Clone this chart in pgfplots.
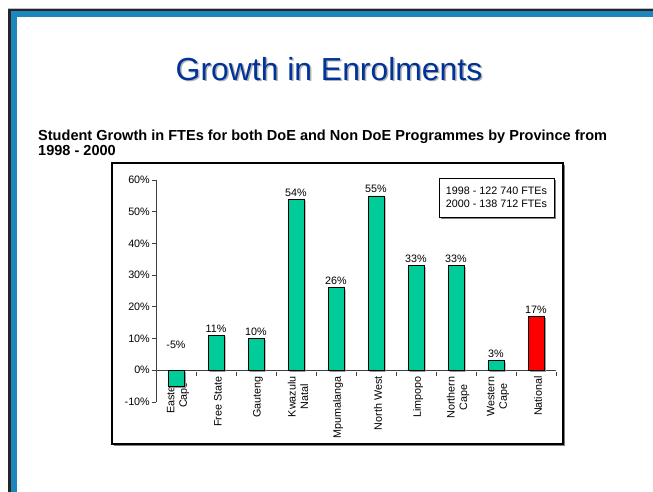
\documentclass[border=0pt]{standalone}
\usepackage{fontspec}
\setmainfont{Liberation Sans}
\usepackage{pgfplots}
\pgfplotsset{compat=1.18}
\definecolor{barteal}{RGB}{0,204,153}
\definecolor{barred}{RGB}{255,0,0}
\definecolor{frameblue}{RGB}{27,135,190}
\definecolor{titleblue}{RGB}{0,51,153}
\newcommand{\lbl}{\fontsize{10.8}{12.5}\selectfont}
\begin{document}
\begin{tikzpicture}
\path[use as bounding box] (0,0) rectangle (653bp,-492bp);
\fill[white] (0,0) rectangle (653bp,-492bp);
% slide border
\fill[black!25] (8bp,-8bp) rectangle (653bp,-9bp);
\fill[black!85] (8bp,-9bp) rectangle (653bp,-11bp);
\fill[black!85] (8bp,-9bp) rectangle (10.5bp,-492bp);
\fill[frameblue] (10.5bp,-11bp) rectangle (653bp,-17bp);
\fill[frameblue] (10.5bp,-11bp) rectangle (17bp,-492bp);
% title
\node[anchor=base, text=black!30, font=\fontsize{32}{36}\selectfont, inner sep=0pt] at (330.5bp,-81.5bp) {Growth in Enrolments};
\node[anchor=base, text=titleblue, font=\fontsize{32}{36}\selectfont, inner sep=0pt] at (329bp,-80bp) {Growth in Enrolments};
% subtitle
\node[anchor=base west, inner sep=0pt, font=\bfseries\fontsize{14.6}{16}\selectfont] at (38bp,-140bp) {Student Growth in FTEs for both DoE and Non DoE Programmes by Province from};
\node[anchor=base west, inner sep=0pt, font=\bfseries\fontsize{14.6}{16}\selectfont] at (38bp,-155bp) {1998 - 2000};
% chart frame
\fill[black!50] (113.5bp,-164.5bp) rectangle (564.5bp,-445.5bp);
\draw[line width=1.2bp, fill=white] (112bp,-163bp) rectangle (563bp,-444bp);
% legend box
\fill[black!50] (440.5bp,-179.5bp) rectangle (555.5bp,-218.5bp);
\draw[line width=0.8bp, fill=white] (439bp,-178bp) rectangle (554bp,-217bp);
\node[align=center, font=\lbl, inner sep=0pt] at (496.5bp,-197.5bp) {1998 - 122 740 FTEs\\2000 - 138 712 FTEs};
\begin{axis}[
  at={(156bp,-402bp)}, anchor=south west,
  scale only axis, width=400bp, height=222bp,
  xmin=-0.5, xmax=9.5, ymin=-10, ymax=60,
  axis x line*=middle, axis y line*=left,
  axis line style={line width=0.8bp, black!75},
  tick align=center,
  ybar, bar width=16bp,
  clip=false,
  ytick={-10,0,10,20,30,40,50,60},
  yticklabels={-10\%,0\%,10\%,20\%,30\%,40\%,50\%,60\%},
  xtick={0,1,2,3,4,5,6,7,8,9},
  xticklabels={{Eastern\\Cape},{Free State},Gauteng,{Kwazulu\\Natal},Mpumalanga,{North West},Limpopo,{Northern\\Cape},{Western\\Cape},National},
  minor xtick={-0.5,0.5,...,9.5},
  major x tick style={draw=none},
  minor x tick style={yshift=-2bp},
  major y tick style={xshift=-2bp},
  major tick length=4bp, minor tick length=4bp,
  tick style={line width=0.8bp, black!75},
  yticklabel style={font=\lbl, inner sep=2bp, xshift=-2bp},
  xticklabel style={font=\lbl, rotate=90, anchor=east, align=center, inner sep=2bp, yshift=-2bp},
  every node near coord/.append style={font=\lbl, inner sep=2.5bp},
  nodes near coords={\pgfmathprintnumber[assume math mode=true]{\pgfplotspointmeta}\%},
  point meta=y,
  every axis plot/.append style={preaction={fill=black!40, draw=none, transform canvas={xshift=1.5bp, yshift=-1.5bp}}},
]
\addplot[fill=barteal, draw=black, line width=0.7bp, bar shift=0pt, nodes near coords={}] coordinates {(0,-5)};
\addplot[fill=barteal, draw=black, line width=0.7bp, bar shift=0pt] coordinates {(1,11) (2,10) (3,54) (4,26) (5,55) (6,33) (7,33) (8,3)};
\addplot[fill=barred, draw=black, line width=0.7bp, bar shift=0pt] coordinates {(9,17)};
\node[font=\lbl] at (axis cs:0,8) {-5\%};
\end{axis}
\end{tikzpicture}
\end{document}
